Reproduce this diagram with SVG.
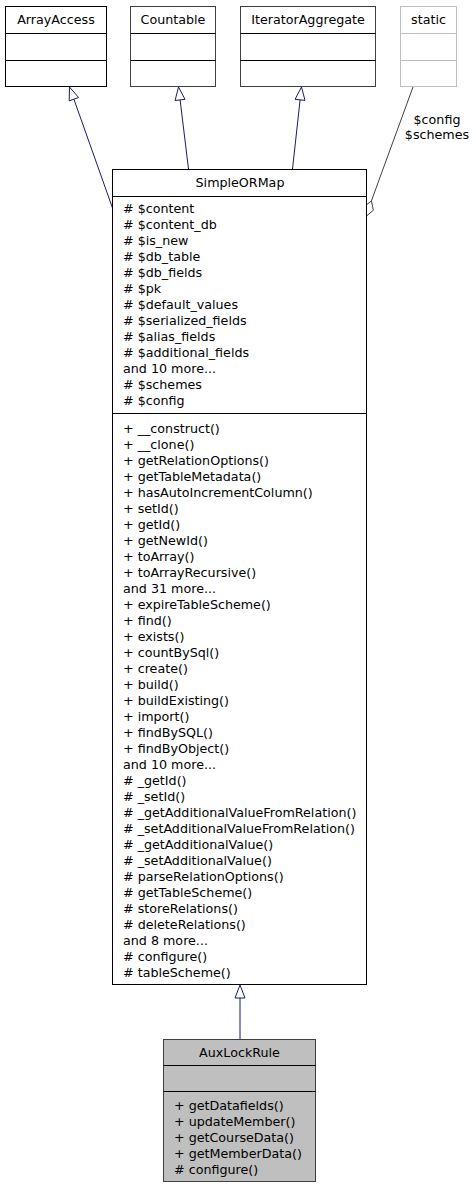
<svg xmlns="http://www.w3.org/2000/svg" width="476" height="1189" viewBox="0 0 476 1189">
<style>
text{font-family:"DejaVu Sans",sans-serif;font-size:12.7px;fill:#000}
.c{text-anchor:middle}
.box{fill:#fff;stroke:#000;stroke-width:1}
.grey{fill:#fff;stroke:#404040;stroke-width:1}
.light{fill:#fff;stroke:#bfbfbf;stroke-width:1}
.cur{fill:#bfbfbf;stroke:#404040;stroke-width:1}
.edge{fill:none;stroke:#191970;stroke-width:1}
.head{fill:#fff;stroke:#191970;stroke-width:1}
.ag{fill:none;stroke:#404040;stroke-width:1}
</style>
<rect width="476" height="1189" fill="#fff"/>
<g id="connectors">
<path class="edge" d="M73.9,99.2 L112.5,208"/>
<polygon class="head" points="69.5,87 78.6,97.5 69.2,100.9"/>
<path class="edge" d="M180.1,99.9 L188.5,169"/>
<polygon class="head" points="178.5,87 185,99.3 175.1,100.5"/>
<path class="edge" d="M300.1,99.9 L292.5,169"/>
<polygon class="head" points="301.5,87 305,100.4 295.1,99.3"/>
<path class="ag" d="M413,87 L371.4,200.9"/>
<polygon class="ag" points="366,216.5 364,206.8 371.4,200.9 373.4,210.2" fill="#fff"/>
<text class="c" x="437" y="124">$config</text>
<text class="c" x="437" y="139">$schemes</text>
<path class="edge" d="M240,998 L240,1039"/>
<polygon class="head" points="240,985 245,998 235,998"/>
</g>
<g id="ArrayAccess">
<rect class="box" x="5.5" y="6.5" width="101" height="80"/>
<path d="M5.5,33.5H106.5M5.5,60.5H106.5" stroke="#000"/>
<text class="c" x="56" y="24">ArrayAccess</text>
</g>
<g id="Countable">
<rect class="grey" x="130.5" y="6.5" width="85" height="80"/>
<path d="M130.5,33.5H215.5M130.5,60.5H215.5" stroke="#000"/>
<text class="c" x="173" y="24">Countable</text>
</g>
<g id="IteratorAggregate">
<rect class="grey" x="240.5" y="6.5" width="135" height="80"/>
<path d="M240.5,33.5H375.5M240.5,60.5H375.5" stroke="#000"/>
<text class="c" x="308" y="24">IteratorAggregate</text>
</g>
<g id="static">
<rect class="light" x="400.5" y="6.5" width="56" height="80"/>
<path d="M400.5,33.5H456.5M400.5,60.5H456.5" stroke="#bfbfbf"/>
<text class="c" x="428.5" y="24">static</text>
</g>
<g id="SimpleORMap">
<rect class="box" x="112.5" y="169.5" width="254" height="815"/>
<path d="M112.5,196.5H366.5M112.5,413.5H366.5" stroke="#000"/>
<text class="c" x="240" y="187">SimpleORMap</text>
<text x="123" y="212.5">
<tspan x="123" dy="0"># $content</tspan>
<tspan x="123" dy="16"># $content_db</tspan>
<tspan x="123" dy="16"># $is_new</tspan>
<tspan x="123" dy="16"># $db_table</tspan>
<tspan x="123" dy="16"># $db_fields</tspan>
<tspan x="123" dy="16"># $pk</tspan>
<tspan x="123" dy="16"># $default_values</tspan>
<tspan x="123" dy="16"># $serialized_fields</tspan>
<tspan x="123" dy="16"># $alias_fields</tspan>
<tspan x="123" dy="16"># $additional_fields</tspan>
<tspan x="123" dy="16">and 10 more...</tspan>
<tspan x="123" dy="16"># $schemes</tspan>
<tspan x="123" dy="16"># $config</tspan>
</text>
<text x="123" y="432.5">
<tspan x="123" dy="0">+ __construct()</tspan>
<tspan x="123" dy="16">+ __clone()</tspan>
<tspan x="123" dy="16">+ getRelationOptions()</tspan>
<tspan x="123" dy="16">+ getTableMetadata()</tspan>
<tspan x="123" dy="16">+ hasAutoIncrementColumn()</tspan>
<tspan x="123" dy="16">+ setId()</tspan>
<tspan x="123" dy="16">+ getId()</tspan>
<tspan x="123" dy="16">+ getNewId()</tspan>
<tspan x="123" dy="16">+ toArray()</tspan>
<tspan x="123" dy="16">+ toArrayRecursive()</tspan>
<tspan x="123" dy="16">and 31 more...</tspan>
<tspan x="123" dy="16">+ expireTableScheme()</tspan>
<tspan x="123" dy="16">+ find()</tspan>
<tspan x="123" dy="16">+ exists()</tspan>
<tspan x="123" dy="16">+ countBySql()</tspan>
<tspan x="123" dy="16">+ create()</tspan>
<tspan x="123" dy="16">+ build()</tspan>
<tspan x="123" dy="16">+ buildExisting()</tspan>
<tspan x="123" dy="16">+ import()</tspan>
<tspan x="123" dy="16">+ findBySQL()</tspan>
<tspan x="123" dy="16">+ findByObject()</tspan>
<tspan x="123" dy="16">and 10 more...</tspan>
<tspan x="123" dy="16"># _getId()</tspan>
<tspan x="123" dy="16"># _setId()</tspan>
<tspan x="123" dy="16"># _getAdditionalValueFromRelation()</tspan>
<tspan x="123" dy="16"># _setAdditionalValueFromRelation()</tspan>
<tspan x="123" dy="16"># _getAdditionalValue()</tspan>
<tspan x="123" dy="16"># _setAdditionalValue()</tspan>
<tspan x="123" dy="16"># parseRelationOptions()</tspan>
<tspan x="123" dy="16"># getTableScheme()</tspan>
<tspan x="123" dy="16"># storeRelations()</tspan>
<tspan x="123" dy="16"># deleteRelations()</tspan>
<tspan x="123" dy="16">and 8 more...</tspan>
<tspan x="123" dy="16"># configure()</tspan>
<tspan x="123" dy="16"># tableScheme()</tspan>
</text>
</g>
<g id="AuxLockRule">
<rect class="cur" x="163.5" y="1039.5" width="152" height="142"/>
<path d="M163.5,1065.5H315.5M163.5,1091.5H315.5" stroke="#000"/>
<text class="c" x="239.5" y="1057">AuxLockRule</text>
<text x="174" y="1109.5">
<tspan x="174" dy="0">+ getDatafields()</tspan>
<tspan x="174" dy="16">+ updateMember()</tspan>
<tspan x="174" dy="16">+ getCourseData()</tspan>
<tspan x="174" dy="16">+ getMemberData()</tspan>
<tspan x="174" dy="16"># configure()</tspan>
</text>
</g>
</svg>
